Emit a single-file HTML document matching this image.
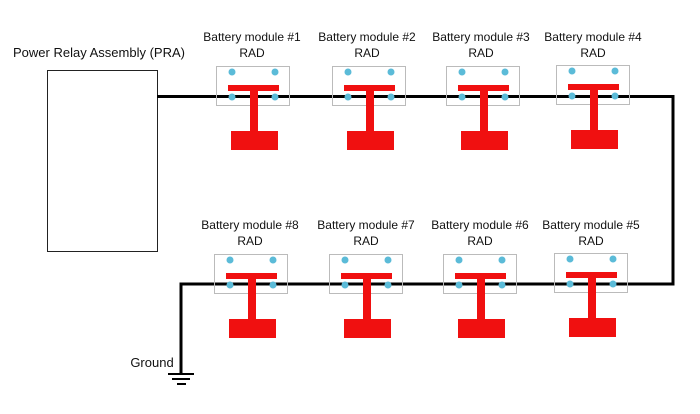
<!DOCTYPE html>
<html><head><style>body{margin:0;background:#fff}svg{display:block}text{font-family:"Liberation Sans",sans-serif;font-size:12px;fill:#111}</style></head>
<body>
<svg width="700" height="414" viewBox="0 0 700 414">
<defs>
<g id="m">
<rect x="0.5" y="0.5" width="73" height="39" fill="none" stroke="#bbb" stroke-width="1"/>
<rect x="12" y="19" width="51" height="6" fill="#f01010"/>
<rect x="34" y="25" width="8" height="41" fill="#f01010"/>
<rect x="15" y="65" width="47" height="19" fill="#f01010"/>
<circle cx="16" cy="6" r="3.5" fill="#5bbbd8"/>
<circle cx="59" cy="6" r="3.5" fill="#5bbbd8"/>
<circle cx="16" cy="31" r="3.5" fill="#5bbbd8"/>
<circle cx="59" cy="31" r="3.5" fill="#5bbbd8"/>
</g>
</defs>
<rect x="47.5" y="70.5" width="110" height="181" fill="none" stroke="#222" stroke-width="1"/>
<text x="99" y="57" text-anchor="middle" style="font-size:13px">Power Relay Assembly (PRA)</text>
<polyline points="157,96.5 673,96.5 673,284 181,284 181,374" fill="none" stroke="#000" stroke-width="3"/>
<line x1="168" y1="374" x2="194" y2="374" stroke="#000" stroke-width="2"/>
<line x1="172" y1="379" x2="190" y2="379" stroke="#000" stroke-width="2"/>
<line x1="177" y1="384" x2="186" y2="384" stroke="#000" stroke-width="2"/>
<text x="152" y="367" text-anchor="middle" style="font-size:13px">Ground</text>
<use href="#m" x="216" y="66"/><use href="#m" x="332" y="66"/><use href="#m" x="446" y="66"/><use href="#m" x="556" y="65"/>
<use href="#m" x="214" y="254"/><use href="#m" x="329" y="254"/><use href="#m" x="443" y="254"/><use href="#m" x="554" y="253"/>
<g text-anchor="middle">
<text x="252" y="41">Battery module #1</text><text x="252" y="57">RAD</text>
<text x="367" y="41">Battery module #2</text><text x="367" y="57">RAD</text>
<text x="481" y="41">Battery module #3</text><text x="481" y="57">RAD</text>
<text x="593" y="41">Battery module #4</text><text x="593" y="57">RAD</text>
<text x="250" y="229">Battery module #8</text><text x="250" y="245">RAD</text>
<text x="366" y="229">Battery module #7</text><text x="366" y="245">RAD</text>
<text x="480" y="229">Battery module #6</text><text x="480" y="245">RAD</text>
<text x="591" y="229">Battery module #5</text><text x="591" y="245">RAD</text>
</g>
</svg>
</body></html>
